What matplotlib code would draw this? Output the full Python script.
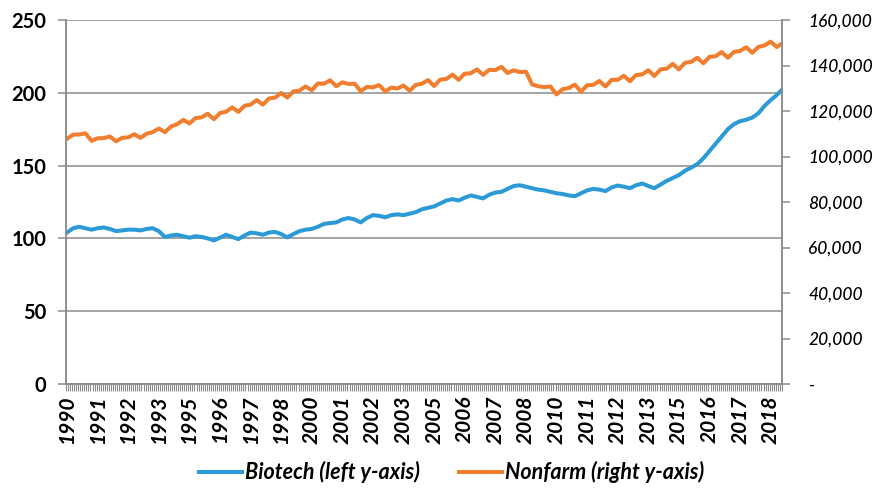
import numpy as np
import matplotlib
matplotlib.use('Agg')
import matplotlib.pyplot as plt
from matplotlib.ticker import FixedLocator, FuncFormatter

plt.rcParams['font.family'] = ['Lato', 'DejaVu Sans']

# Monthly category axis: Jan 1990 .. Mar 2019
N_MONTHS = 351
label_pos = [0, 15, 30, 45, 60, 75, 90, 105, 120, 135, 150, 165,
             180, 195, 210, 225, 240, 255, 270, 285, 300, 315, 330, 345]
label_years = ['1990', '1991', '1992', '1993', '1995', '1996', '1997', '1998',
               '2000', '2001', '2002', '2003', '2005', '2006', '2007', '2008',
               '2010', '2011', '2012', '2013', '2015', '2016', '2017', '2018']

# sample months (Jan, Apr, Jul, Oct of each year, then Jan & Mar 2019)
sample_month = [12 * y + q for y in range(29) for q in (0, 3, 6, 9)] + [348, 350]

# Biotech
biotech = [
    104, 107, 108, 107,        # 1990
    106, 107, 107.5, 106.5,    # 1991
    105, 105.5, 106, 106,      # 1992
    105.5, 106.5, 107, 105,    # 1993
    101, 102, 102.5, 101.5,    # 1994
    100.5, 101.5, 101, 100,    # 1995
    98.6, 100.5, 102.5, 101,   # 1996
    99.5, 102, 104, 103.5,     # 1997
    102.5, 104, 104.5, 103,    # 1998
    100.7, 103, 105, 106,      # 1999
    106.5, 108, 110, 110.5,    # 2000
    111, 113, 114, 113,        # 2001
    111, 114, 116, 115.5,      # 2002
    114.5, 116, 116.5, 116,    # 2003
    117, 118, 120, 121,        # 2004
    122, 124, 126, 127,        # 2005
    126, 128, 129.5, 128.5,    # 2006
    127.5, 130, 131.5, 132,    # 2007
    134, 136, 136.5, 135.5,    # 2008
    134.5, 133.5, 133, 132,    # 2009
    131, 130.5, 129.5, 129,    # 2010
    131, 133, 134, 133.5,      # 2011
    132.5, 135, 136.3, 135.5,  # 2012
    134.5, 136.5, 137.7, 136,  # 2013
    134.5, 137, 139.5, 141.5,  # 2014
    143.5, 146.5, 148.6, 151,  # 2015
    155, 160, 165, 170,        # 2016
    175, 178.5, 180.5, 181.5,  # 2017
    183, 186, 191, 195,        # 2018
    198.5, 201.4,              # 2019
]

# Nonfarm payrolls (thousands)
nonfarm = [
    107800, 109600, 109700, 110200,  # 1990
    106900, 108000, 108100, 108800,  # 1991
    106700, 108200, 108400, 109800,  # 1992
    108200, 110000, 110700, 112300,  # 1993
    110700, 113200, 114200, 116100,  # 1994
    114500, 116900, 117200, 118800,  # 1995
    116400, 119100, 119700, 121600,  # 1996
    119600, 122300, 122800, 124800,  # 1997
    122800, 125500, 125900, 127900,  # 1998
    125900, 128600, 129000, 130800,  # 1999
    129100, 132100, 132000, 133500,  # 2000
    130900, 132600, 131900, 132000,  # 2001
    128700, 130600, 130400, 131400,  # 2002
    128600, 130300, 129900, 131200,  # 2003
    128900, 131500, 132000, 133600,  # 2004
    131000, 133800, 134100, 136000,  # 2005
    133700, 136400, 136600, 138300,  # 2006
    135900, 138100, 138000, 139400,  # 2007
    136700, 137900, 137100, 137300,  # 2008
    131700, 130900, 130500, 130800,  # 2009
    127300, 129600, 130100, 131600,  # 2010
    128500, 131300, 131500, 133200,  # 2011
    130800, 133700, 133700, 135500,  # 2012
    133100, 135800, 136100, 137900,  # 2013
    135400, 138300, 138600, 140700,  # 2014
    138300, 141200, 141600, 143400,  # 2015
    141000, 143800, 144100, 145900,  # 2016
    143400, 146000, 146400, 148000,  # 2017
    145600, 148200, 148800, 150500,  # 2018
    148100, 149400,                  # 2019
]

BLUE = '#2B9AD6'
ORANGE = '#F07E2E'
GRID = '#8C8C8C'

fig = plt.figure(figsize=(8.86, 4.88), dpi=100)
ax = fig.add_axes([0.0745, 0.2131, 0.808, 0.7459])
ax2 = ax.twinx()

l1, = ax.plot(sample_month, biotech, color=BLUE, lw=2.9, solid_joinstyle='round',
              label='Biotech (left y-axis)')
l2, = ax2.plot(sample_month, nonfarm, color=ORANGE, lw=2.9, solid_joinstyle='round',
               label='Nonfarm (right y-axis)')

ax.set_xlim(-0.5, N_MONTHS - 0.5)
ax.set_ylim(0, 250)
ax2.set_ylim(0, 160000)

# left axis
ax.set_yticks(np.arange(0, 251, 50))
ax.yaxis.grid(True, color=GRID, lw=1.1)
ax.set_axisbelow(True)
ax.tick_params(axis='y', length=6, color=GRID, width=1.1, pad=8, labelsize=14.5)
for t in ax.get_yticklabels():
    t.set_fontweight('bold')

# right axis
ax2.set_yticks(np.arange(0, 160001, 20000))
ax2.yaxis.set_major_formatter(FuncFormatter(lambda v, p: '-' if v == 0 else f'{int(v):,}'))
ax2.tick_params(axis='y', length=6, color=GRID, width=1.1, pad=13, labelsize=12.5)
for t in ax2.get_yticklabels():
    t.set_fontstyle('italic')
    t.set_fontweight('medium')

# category x axis
ax.xaxis.set_major_locator(FixedLocator(label_pos))
ax.set_xticklabels(label_years, rotation=90, fontsize=15, fontweight='bold',
                   fontstyle='italic')
ax.xaxis.set_minor_locator(FixedLocator(np.arange(-0.5, N_MONTHS, 1)))
ax.tick_params(axis='x', which='major', length=0, pad=8)
ax.tick_params(axis='x', which='minor', length=5, color=GRID, width=0.8)

for a in (ax, ax2):
    a.spines['top'].set_visible(False)
    for s in ('left', 'right', 'bottom'):
        a.spines[s].set_color(GRID)
        a.spines[s].set_linewidth(1.1)

leg = fig.legend(handles=[l1, l2], loc='lower center', bbox_to_anchor=(0.51, -0.03),
                 ncol=2, frameon=False, handlelength=2.0, columnspacing=1.8,
                 handletextpad=0.15,
                 prop={'size': 15.5, 'weight': 'bold', 'style': 'italic'})

fig.savefig('out.png', dpi=100)
